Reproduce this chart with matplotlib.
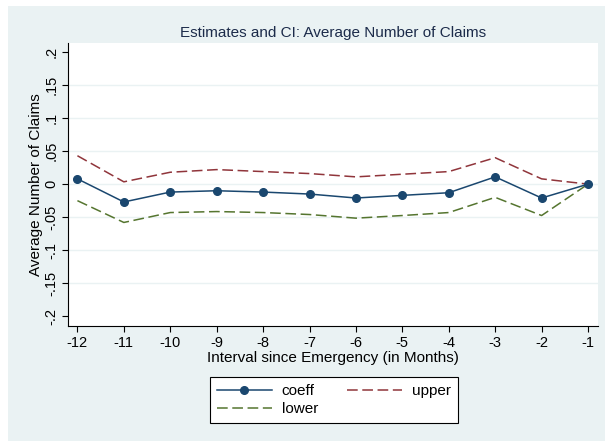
import matplotlib
matplotlib.use("Agg")
import matplotlib.pyplot as plt
from matplotlib.patches import Rectangle
from matplotlib.lines import Line2D

plt.rcParams['font.family'] = ['Liberation Sans', 'DejaVu Sans']

# Event-study estimates and confidence bounds
months = [-12, -11, -10, -9, -8, -7, -6, -5, -4, -3, -2, -1]
coeff = [0.008, -0.027, -0.012, -0.010, -0.012, -0.015, -0.021, -0.017, -0.013, 0.011, -0.021, 0.0]
upper = [0.043, 0.0035, 0.018, 0.022, 0.019, 0.016, 0.011, 0.015, 0.019, 0.040, 0.008, 0.0]
lower = [-0.025, -0.058, -0.043, -0.0415, -0.043, -0.046, -0.0515, -0.0475, -0.043, -0.020, -0.0475, 0.0]

yticks = [-0.2, -0.15, -0.1, -0.05, 0, 0.05, 0.1, 0.15, 0.2]
ytick_labels = ['-.2', '-.15', '-.1', '-.05', '0', '.05', '.1', '.15', '.2']

BG = '#eaf2f3'
NAVY = '#1a476f'
MAROON = '#90353b'
OLIVE = '#55752f'

fig = plt.figure(figsize=(6.05, 4.41), dpi=100)
fig.patch.set_facecolor('white')
fig.patches.append(Rectangle((8 / 605, 0), 1 - 8 / 605, 1 - 6 / 441,
                             transform=fig.transFigure, facecolor=BG,
                             edgecolor='none', zorder=-10))

ax = fig.add_axes([68 / 605, 1 - 326 / 441, (598 - 68) / 605, (326 - 43) / 441])
ax.set_facecolor('white')

for y in yticks[1:-1]:
    ax.axhline(y, color=BG, lw=1.0, zorder=0)

ax.plot(months, upper, color=MAROON, lw=1.1, dashes=(7, 3), zorder=2)
ax.plot(months, lower, color=OLIVE, lw=1.1, dashes=(7, 3), zorder=2)
ax.plot(months, coeff, color=NAVY, lw=1.1, marker='o', markersize=5.5, zorder=3)

ax.set_xlim(-12.203, -0.785)
ax.set_ylim(-0.2147, 0.2136)
ax.set_xticks(months)
ax.set_xticklabels([str(m) for m in months])
ax.set_yticks(yticks)
ax.set_yticklabels(ytick_labels, rotation=90, va='center')

for s in ['top', 'right']:
    ax.spines[s].set_visible(False)
for s in ['left', 'bottom']:
    ax.spines[s].set_color('black')
    ax.spines[s].set_linewidth(0.8)
ax.tick_params(axis='both', direction='out', length=4, width=0.8,
               labelsize=10.5, colors='black', pad=3)

ax.set_title('Estimates and CI: Average Number of Claims', fontsize=11,
             color='#1c2b4a', pad=4)
ax.set_xlabel('Interval since Emergency (in Months)', fontsize=11, labelpad=1)
ax.set_ylabel('Average Number of Claims', fontsize=11, labelpad=1)

handles = [
    Line2D([], [], color=NAVY, lw=1.1, marker='o', markersize=5.5),
    Line2D([], [], color=OLIVE, lw=1.1, dashes=(7, 3)),
    Line2D([], [], color=MAROON, lw=1.1, dashes=(7, 3)),
]
labels = ['coeff', 'lower', 'upper']
leg = fig.legend(handles, labels, ncol=2, loc='upper left',
                 bbox_to_anchor=(210 / 605, 1 - 377 / 441), borderaxespad=0,
                 fontsize=11, frameon=True, fancybox=False,
                 edgecolor='black', facecolor='white', framealpha=1,
                 handlelength=3.6, handletextpad=0.65, columnspacing=1.9,
                 labelspacing=0.3, borderpad=0.45)
leg.get_frame().set_linewidth(0.8)

fig.savefig('out.png', dpi=100, facecolor=fig.get_facecolor())
